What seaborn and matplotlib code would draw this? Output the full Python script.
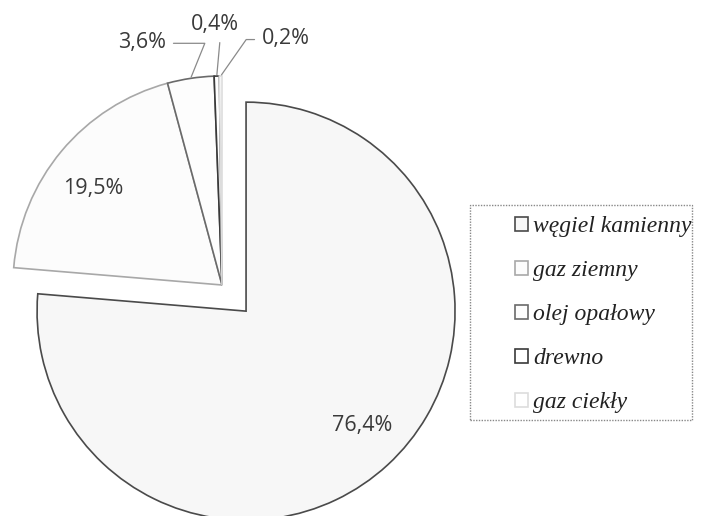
import matplotlib
matplotlib.use("Agg")
import matplotlib.pyplot as plt
import seaborn as sns
import numpy as np
from matplotlib.patches import Rectangle

sns.set_style("white")

categories = ["węgiel kamienny", "gaz ziemny", "olej opałowy", "drewno", "gaz ciekły"]
values = [76.4, 19.5, 3.6, 0.4, 0.2]
labels_txt = ["76,4%", "19,5%", "3,6%", "0,4%", "0,2%"]

face_colors = ["#f7f7f7", "#fcfcfc", "#fdfdfd", "#ffffff", "#ffffff"]
edge_colors = ["#4a4a4a", "#a8a8a8", "#6a6a6a", "#3a3a3a", "#dddddd"]
explode = [0.17, 0, 0, 0, 0]

fig = plt.figure(figsize=(7.04, 5.16), dpi=100)
ax = fig.add_axes([0, 0, 1, 1])
wedges, _ = ax.pie(values, explode=explode, startangle=90, counterclock=False,
                   colors=face_colors, radius=1.0,
                   wedgeprops=dict(linewidth=1.2))
for w, ec in zip(wedges, edge_colors):
    w.set_edgecolor(ec)

scale = 209.0
ax.set_xlim(-222 / scale, (704 - 222) / scale)
ax.set_ylim(-(516 - 285) / scale, 285 / scale)
ax.set_aspect("auto")
ax.axis("off")

lab_font = dict(family="Open Sans", fontsize=15.5, color="#3a3a3a")

# inside labels for the two large slices
inside_dist = [0.78, 0.77]
angle_shift = [3.0, 3.0]
for i in range(2):
    w = wedges[i]
    mid = np.deg2rad((w.theta1 + w.theta2) / 2 + angle_shift[i])
    cx, cy = w.center
    ax.text(cx + inside_dist[i] * np.cos(mid), cy + inside_dist[i] * np.sin(mid),
            labels_txt[i], ha="center", va="center", **lab_font)

# outside labels with leader lines for the small slices
offsets = {2: (-35, 26), 3: (-1.5, 37), 4: (47, 27)}
conn = {2: "angle,angleA=0,angleB=68,rad=0",
        3: "arc3",
        4: "angle,angleA=180,angleB=55,rad=0"}
rel = {2: (1.0, 0.45), 3: (0.62, 0.0), 4: (0.0, 0.45)}
for i, (dx, dy) in offsets.items():
    w = wedges[i]
    mid = np.deg2rad((w.theta1 + w.theta2) / 2)
    cx, cy = w.center
    xy = (cx + np.cos(mid), cy + np.sin(mid))
    ax.annotate(labels_txt[i], xy=xy, xytext=(dx, dy), textcoords="offset points",
                ha="center", va="center", **lab_font,
                arrowprops=dict(arrowstyle="-", color="#8a8a8a", lw=0.9,
                                connectionstyle=conn[i], relpos=rel[i],
                                shrinkA=3, shrinkB=1))

# legend
leg = fig.legend(wedges, categories, loc="center left",
                 bbox_to_anchor=(0.702, 0.39), frameon=False,
                 prop=dict(family="Liberation Serif", style="italic", size=17),
                 labelspacing=0.97, handlelength=0.55, handleheight=0.55,
                 handletextpad=0.2)
for txt in leg.get_texts():
    txt.set_color("#222222")

fig.patches.append(Rectangle((470 / 704, (516 - 420) / 516), (692 - 470) / 704,
                             (420 - 205) / 516, transform=fig.transFigure,
                             fill=False, edgecolor="#888888", linestyle=(0, (1, 1)),
                             linewidth=1.0))

fig.savefig("out.png", dpi=100)
